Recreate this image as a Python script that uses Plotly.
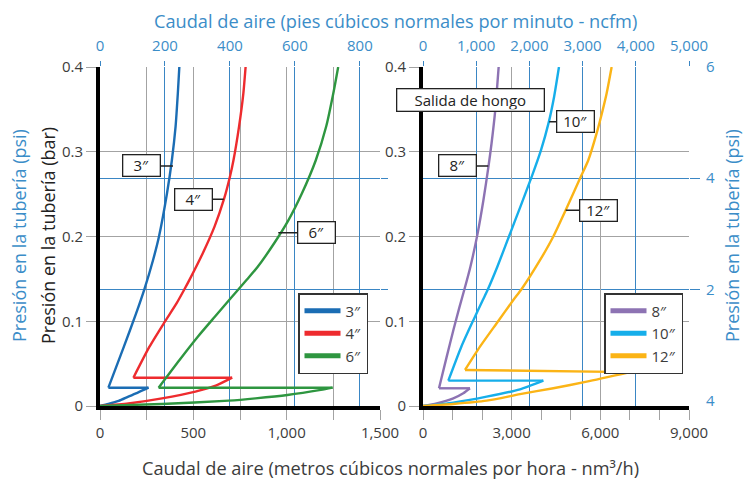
import plotly.graph_objects as go

# ---------------- data ----------------
# Left panel: flow in nm3/h, pressure in bar
flow_3in = [0, 45, 100, 152, 205, 260, 45, 128, 193, 238, 284, 316, 359, 385, 405, 417, 425]
pres_3in = [0, 0.0024, 0.006, 0.011, 0.016, 0.0216, 0.0216, 0.070, 0.109, 0.138, 0.172, 0.200, 0.251, 0.290, 0.330, 0.369, 0.400]

flow_4in = [0, 152, 332, 511, 620, 708, 179, 265, 343, 410, 453, 482, 550, 614, 664, 696, 715, 745, 768, 780]
pres_4in = [0, 0.003, 0.009, 0.017, 0.024, 0.0334, 0.0334, 0.070, 0.098, 0.121, 0.138, 0.150, 0.180, 0.212, 0.244, 0.2706, 0.290, 0.330, 0.369, 0.400]

flow_6in = [0, 332, 690, 833, 1004, 1183, 1246, 314, 425, 525, 614, 692, 786, 844, 933, 1009, 1082, 1156, 1212, 1250, 1276]
pres_6in = [0, 0.0024, 0.0063, 0.009, 0.013, 0.019, 0.0216, 0.0216, 0.054, 0.082, 0.105, 0.125, 0.149, 0.164, 0.192, 0.219, 0.251, 0.290, 0.330, 0.369, 0.400]

# Right panel
flow_8in = [0, 462, 1026, 1364, 1590, 541, 801, 1031, 1236, 1404, 1602, 1850, 2045, 2217, 2320, 2445, 2560]
pres_8in = [0, 0.003, 0.009, 0.015, 0.0209, 0.0209, 0.058, 0.090, 0.117, 0.138, 0.164, 0.204, 0.243, 0.283, 0.310, 0.349, 0.400]

flow_10in = [0, 1026, 2154, 3282, 4071, 857, 1297, 1700, 2024, 2200, 2512, 2908, 3293, 3682, 3992, 4256, 4436, 4600]
pres_10in = [0, 0.004, 0.011, 0.0197, 0.0299, 0.0299, 0.070, 0.101, 0.125, 0.138, 0.164, 0.200, 0.235, 0.271, 0.302, 0.335, 0.365, 0.400]

flow_12in = [0, 1026, 2154, 3282, 4410, 5538, 7003, 1421, 1928, 2493, 3056, 3338, 3958, 4410, 4827, 5345, 5592, 5876, 6079, 6214, 6383]
pres_12in = [0, 0.0024, 0.0063, 0.014, 0.021, 0.0287, 0.040, 0.0425, 0.070, 0.0976, 0.125, 0.138, 0.172, 0.200, 0.231, 0.271, 0.290, 0.322, 0.349, 0.369, 0.400]

series_names_left = ["3″", "4″", "6″"]
series_names_right = ["8″", "10″", "12″"]

# ticks
bar_ticks = [0, 0.1, 0.2, 0.3, 0.4]
bar_ticktext = ["0", "0.1", "0.2", "0.3", "0.4"]
left_nm3_ticks = [0, 500, 1000, 1500]
left_nm3_text = ["0", "500", "1,000", "1,500"]
right_nm3_ticks = [0, 3000, 6000, 9000]
right_nm3_text = ["0", "3,000", "6,000", "9,000"]
left_ncfm_ticks = [0, 200, 400, 600, 800]
left_ncfm_text = ["0", "200", "400", "600", "800"]
right_ncfm_ticks = [0, 1000, 2000, 3000, 4000, 5000]
right_ncfm_text = ["0", "1,000", "2,000", "3,000", "4,000", "5,000"]
psi_ticks = [0, 2, 4, 6]
psi_ticktext = ["4", "2", "4", "6"]
psi_grid = [2, 4]

# label callouts: (text, flow, pressure, panel, dx)
callouts = [
    ("3″", 391, 0.2832, "left", -31),
    ("4″", 663, 0.2439, "left", -30),
    ("6″", 955, 0.2045, "left", 38),
    ("8″", 2209, 0.2832, "right", -31),
    ("10″", 4273, 0.3355, "right", 26),
    ("12″", 4827, 0.2309, "right", 33),
]

# ---------------- styling ----------------
W, H = 752, 483
OFF = 8  # page body margin of the html page
FONT = "Open Sans"
BLUE_TXT = "#3b8dc8"
BLUE_GRID = "#3a86c4"
GRAY = "#a3a3a3"
TXT = "#3c3c3c"
colors = {"3″": "#1b6db4", "4″": "#ee2b2e", "6″": "#2e9640",
          "8″": "#8d73b3", "10″": "#16aeea", "12″": "#fbb416"}


def px(xp):
    return (xp - OFF) / W


def py(yp):
    return 1 - (yp - OFF) / H


L_DOM = [px(100), px(380)]
R_DOM = [px(423), px(689)]
Y_DOM = [py(406), py(67)]

fig = go.Figure()

# invisible traces so the overlaid ncfm / psi axes get drawn
fig.add_trace(go.Scatter(x=[None], y=[None], xaxis="x3", yaxis="y3", showlegend=False, hoverinfo="skip"))
fig.add_trace(go.Scatter(x=[None], y=[None], xaxis="x4", yaxis="y4", showlegend=False, hoverinfo="skip"))

left_data = [(flow_3in, pres_3in), (flow_4in, pres_4in), (flow_6in, pres_6in)]
right_data = [(flow_8in, pres_8in), (flow_10in, pres_10in), (flow_12in, pres_12in)]


def add_series(name, fx, fy, xa, ya, leg):
    # split the curve where it turns back (apex -> horizontal return -> upper curve)
    k = next(i for i in range(1, len(fx)) if fx[i] < fx[i - 1])
    pieces = [(fx[:k], fy[:k], "spline"), (fx[k - 1:k + 1], fy[k - 1:k + 1], "linear"),
              (fx[k:], fy[k:], "spline")]
    for sx, sy, shape in pieces:
        fig.add_trace(go.Scatter(x=sx, y=sy, mode="lines", xaxis=xa, yaxis=ya,
                                 line=dict(color=colors[name], width=2.4, shape=shape, smoothing=0.6),
                                 showlegend=False, legendgroup=name, hoverinfo="skip"))
    fig.add_trace(go.Scatter(x=[None], y=[None], mode="lines", xaxis=xa, yaxis=ya,
                             name=name, legend=leg, legendgroup=name,
                             line=dict(color=colors[name], width=5)))


for name, (fx, fy) in zip(series_names_left, left_data):
    add_series(name, fx, fy, "x", "y", "legend")
for name, (fx, fy) in zip(series_names_right, right_data):
    add_series(name, fx, fy, "x2", "y2", "legend2")

tickfont = dict(family=FONT, size=15, color=TXT)
bluefont = dict(family=FONT, size=15, color=BLUE_TXT)

common_bottom = dict(ticks="outside", ticklen=10, tickwidth=1.3, tickcolor=GRAY,
                     showgrid=True, gridcolor=GRAY, gridwidth=1.3, zeroline=False,
                     showline=True, linecolor="black", linewidth=4, automargin=False,
                     tickfont=tickfont, tickmode="array")

top_common = dict(tickmode="array", ticks="outside", ticklen=5, tickcolor=BLUE_GRID, tickwidth=1.3,
                  showgrid=True, gridcolor=BLUE_GRID, gridwidth=1.3, zeroline=False,
                  showline=False, tickfont=bluefont, ticklabelstandoff=4, automargin=False)

legend_style = dict(xanchor="right", yanchor="top", bordercolor="#333333", borderwidth=1.5,
                    bgcolor="white", font=dict(family=FONT, size=15, color=TXT),
                    tracegroupgap=0, itemwidth=36)

layout = dict(
    width=W, height=H, margin=dict(l=0, r=0, t=0, b=0, autoexpand=False),
    template="none",
    paper_bgcolor="white", plot_bgcolor="white",
    font=dict(family=FONT, color=TXT),
    xaxis=dict(domain=L_DOM, anchor="y", range=[0, 1500],
               tickvals=left_nm3_ticks, ticktext=left_nm3_text,
               minor=dict(dtick=250, tick0=0, ticks="outside", ticklen=10, tickwidth=1.3,
                          tickcolor=GRAY, showgrid=True, gridcolor=GRAY, gridwidth=1.3),
               **common_bottom),
    yaxis=dict(domain=Y_DOM, anchor="x", range=[0, 0.4],
               tickvals=bar_ticks, ticktext=bar_ticktext, **common_bottom),
    xaxis2=dict(domain=R_DOM, anchor="y2", range=[0, 9000],
                tickvals=right_nm3_ticks, ticktext=right_nm3_text,
                minor=dict(dtick=1000, tick0=0, ticks="outside", ticklen=10, tickwidth=1.3,
                           tickcolor=GRAY, showgrid=False),
                **common_bottom),
    yaxis2=dict(domain=Y_DOM, anchor="x2", range=[0, 0.4],
                tickvals=bar_ticks, ticktext=bar_ticktext, **common_bottom),
    # top ncfm axes
    xaxis3=dict(overlaying="x", side="top", anchor="y3", range=[0, 862],
                tickvals=left_ncfm_ticks, ticktext=left_ncfm_text, **top_common),
    xaxis4=dict(overlaying="x2", side="top", anchor="y4", range=[0, 5000],
                tickvals=right_ncfm_ticks, ticktext=right_ncfm_text, **top_common),
    # psi axes
    yaxis3=dict(overlaying="y", side="right", anchor="x3", range=[-0.1, 6],
                tickmode="array", tickvals=psi_ticks, showticklabels=False, ticks="",
                showgrid=False, zeroline=False, showline=False, automargin=False,
                minor=dict(tickmode="array", tickvals=psi_grid, ticks="outside", ticklen=7,
                           tickcolor=BLUE_GRID, tickwidth=1.3, showgrid=True,
                           gridcolor=BLUE_GRID, gridwidth=1.3)),
    yaxis4=dict(overlaying="y2", side="right", anchor="x4", range=[-0.1, 6],
                tickmode="array", tickvals=psi_ticks, ticktext=psi_ticktext,
                ticks="", showgrid=False, zeroline=False, showline=False, automargin=False,
                tickfont=bluefont, ticklabelstandoff=16,
                minor=dict(tickmode="array", tickvals=psi_grid, ticks="outside", ticklen=10,
                           tickcolor=BLUE_GRID, tickwidth=1.3, showgrid=True,
                           gridcolor=BLUE_GRID, gridwidth=1.3)),
    legend=dict(x=px(368), y=py(293), **legend_style),
    legend2=dict(x=px(683), y=py(293), **legend_style),
)
fig.update_layout(**layout)

annotations = [
    dict(text="Caudal de aire (pies cúbicos normales por minuto - ncfm)", xref="paper", yref="paper",
         x=px(395), y=1.0, showarrow=False, font=dict(family=FONT, size=18.2, color=BLUE_TXT),
         xanchor="center", yanchor="top", borderpad=0),
    dict(text="Caudal de aire (metros cúbicos normales por hora - nm³/h)", xref="paper", yref="paper",
         x=px(390), y=py(468), showarrow=False, font=dict(family=FONT, size=18.2, color=TXT),
         xanchor="center", yanchor="middle"),
    dict(text="Presión en la tubería (bar)", xref="paper", yref="paper",
         x=px(48), y=py(236), showarrow=False, textangle=-90,
         font=dict(family=FONT, size=18, color="#222222"), xanchor="center", yanchor="middle"),
    dict(text="Presión en la tubería (psi)", xref="paper", yref="paper",
         x=px(19), y=py(236), showarrow=False, textangle=-90,
         font=dict(family=FONT, size=18, color=BLUE_TXT), xanchor="center", yanchor="middle"),
    dict(text="Presión en la tubería (psi)", xref="paper", yref="paper",
         x=px(732), y=py(236), showarrow=False, textangle=-90,
         font=dict(family=FONT, size=18, color=BLUE_TXT), xanchor="center", yanchor="middle"),
    dict(text="Salida de hongo", xref="x2", yref="y2", x=1607, y=0.361, showarrow=False,
         font=dict(family=FONT, size=15, color="#222222"), bgcolor="white",
         bordercolor="#222222", borderwidth=1.3, borderpad=1, width=144, height=19),
]
for text, fx, fy, panel, dx in callouts:
    xr, yr = ("x", "y") if panel == "left" else ("x2", "y2")
    annotations.append(dict(text=text, xref=xr, yref=yr, x=fx, y=fy, ax=dx, ay=0,
                            showarrow=True, arrowhead=0, arrowwidth=1.5, arrowcolor="#222222",
                            font=dict(family=FONT, size=15, color="#222222"), bgcolor="white",
                            bordercolor="#222222", borderwidth=1.3, borderpad=1,
                            width=34, height=18, standoff=0))
fig.update_layout(annotations=annotations)

fig.write_html("out.html")
